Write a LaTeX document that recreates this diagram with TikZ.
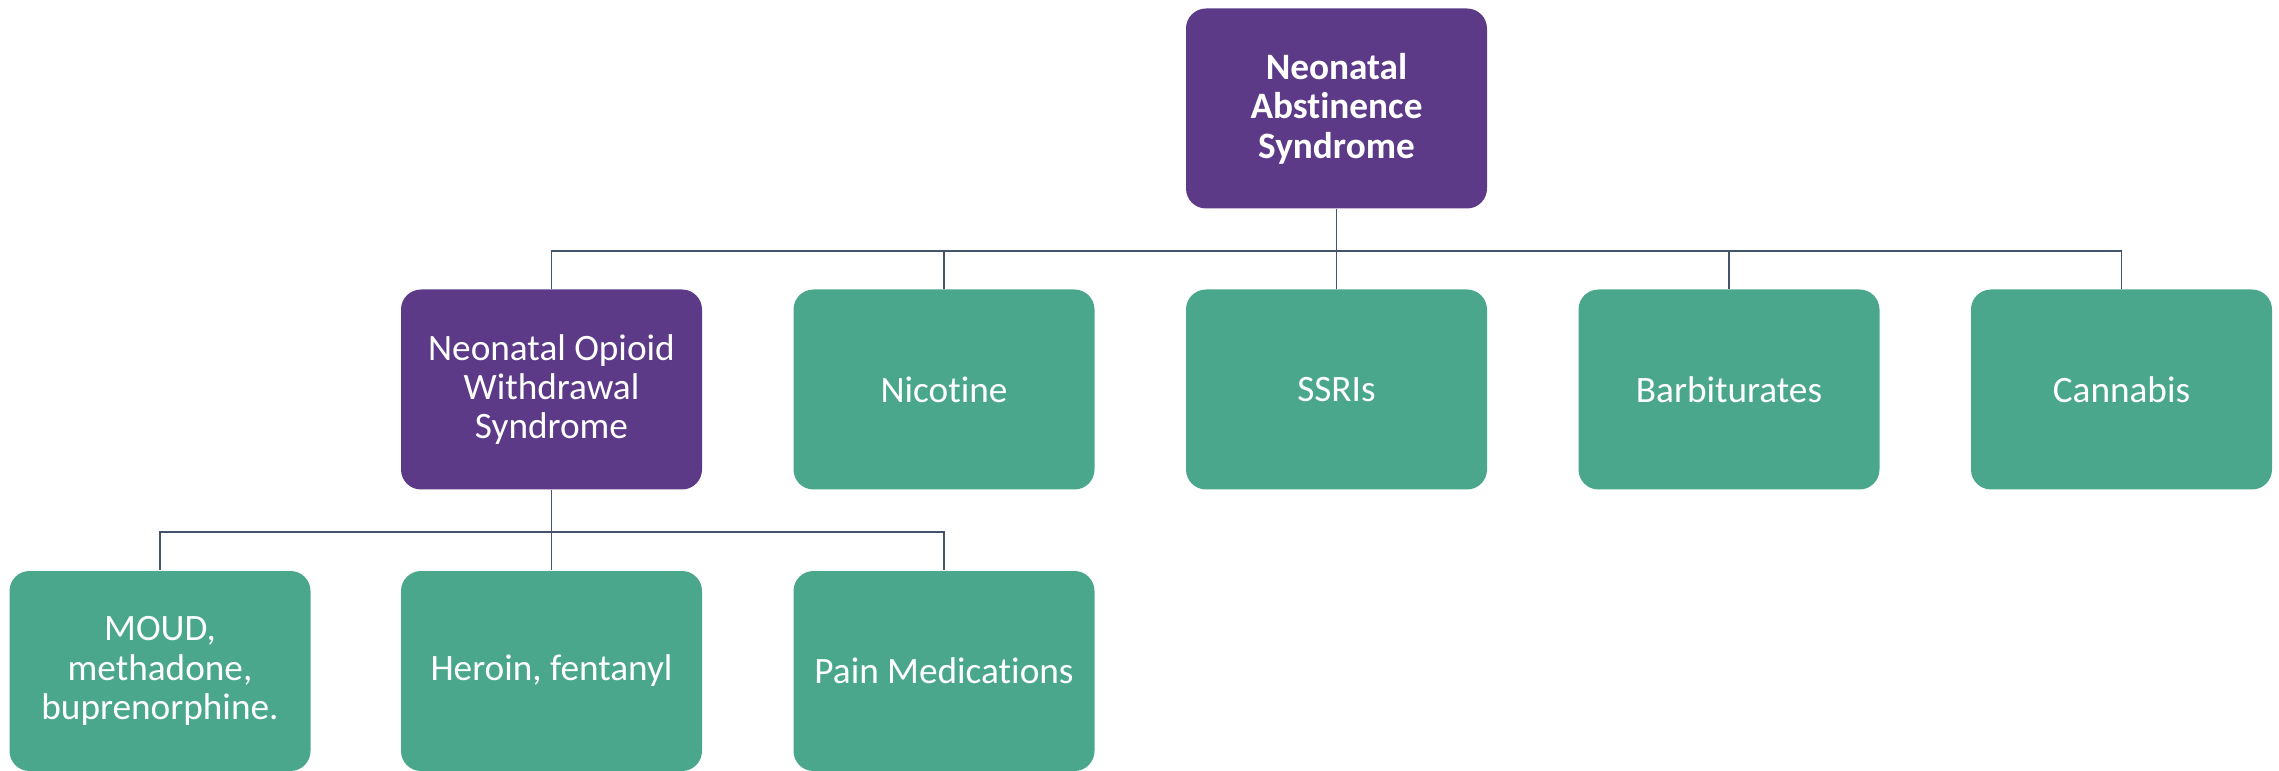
\documentclass[tikz,border=0pt]{standalone}
\usepackage{fontspec}
\setmainfont{Carlito}[Ligatures=NoCommon]
\usetikzlibrary{positioning}
\definecolor{nasPurple}{RGB}{92,58,136}
\definecolor{nasGreen}{RGB}{74,167,140}
\definecolor{nasLine}{RGB}{68,84,106}

\begin{document}
\begin{tikzpicture}[
 box/.style={rectangle,rounded corners=0.2cm,minimum width=3.01cm,minimum height=2.0cm,
   align=center,text=white,font=\fontsize{10.6}{11.2}\selectfont,inner sep=0pt},
 pbox/.style={box,fill=nasPurple},
 gbox/.style={box,fill=nasGreen},
 con/.style={draw=nasLine,line width=0.5pt}]
\useasboundingbox (0,0) rectangle (22.79,-7.71);
% root
\node[pbox,font=\fontsize{10.6}{11.2}\selectfont\bfseries] (nas) at (13.365,-1.085) {Neonatal\\Abstinence\\Syndrome};
% second row
\node[pbox] (nows) at (5.515,-3.895) {Neonatal Opioid\\Withdrawal\\Syndrome};
\node[gbox] (nic) at (9.44,-3.895) {Nicotine};
\node[gbox] (ssri) at (13.365,-3.895) {SSRIs};
\node[gbox] (barb) at (17.29,-3.895) {Barbiturates};
\node[gbox] (cann) at (21.215,-3.895) {Cannabis};
% third row
\node[gbox] (moud) at (1.60,-6.71) {MOUD,\\methadone,\\buprenorphine.};
\node[gbox] (her) at (5.515,-6.71) {Heroin, fentanyl};
\node[gbox] (pain) at (9.44,-6.71) {Pain Medications};
% elbow connectors
\foreach \c in {nows,nic,ssri,barb,cann} \draw[con] (nas.south) -- ++(0,-0.415) -| (\c.north);
\foreach \c in {moud,her,pain} \draw[con] (nows.south) -- ++(0,-0.415) -| (\c.north);
\end{tikzpicture}
\end{document}
